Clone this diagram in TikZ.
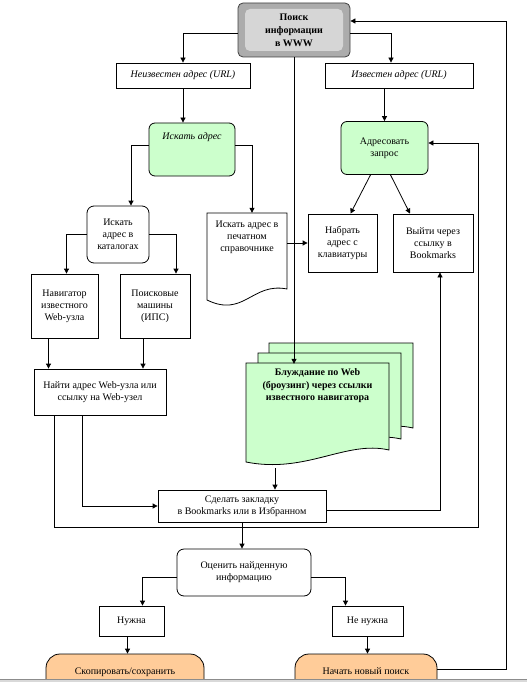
\documentclass[tikz,border=0pt]{standalone}
\usepackage{fontspec}
\setmainfont{Liberation Serif}
\usetikzlibrary{arrows.meta}

\definecolor{boxgreen}{RGB}{204,255,204}
\definecolor{boxorange}{RGB}{255,204,153}
\definecolor{rootgray}{RGB}{172,172,172}
\definecolor{rootlight}{RGB}{214,214,214}

\tikzset{
    every node/.style={font=\fontsize{10}{12}\selectfont, align=center, inner sep=2pt},
    plainbox/.style={draw, line width=0.8pt, fill=white},
    greenbox/.style={plainbox, fill=boxgreen, rounded corners=6pt},
    roundbox/.style={plainbox, rounded corners=7pt},
    endbox/.style={plainbox, fill=boxorange, rounded corners=14pt},
    rootbox/.style={draw=black!75, line width=0.8pt, fill=rootgray, rounded corners=5pt,
        font=\fontsize{10}{13}\selectfont\bfseries,
        path picture={\fill[rootlight] ([shift={(7pt,-6pt)}]path picture bounding box.north west)
            rectangle ([shift={(-7pt,6pt)}]path picture bounding box.south east);}},
    slanted/.style={font=\fontsize{10}{12}\selectfont\itshape},
    heavy/.style={font=\fontsize{10}{12.5}\selectfont\bfseries},
    flow/.style={line width=0.8pt, -{Triangle[length=5pt,width=5pt]}},
}

\begin{document}
\begin{tikzpicture}[x=1pt, y=-1pt]
    \useasboundingbox (0,0) rectangle (527,682);
    \clip (0,0) rectangle (527,682);

    % document shapes
    \draw[line width=0.8pt, fill=white] (207,213) -- (287,213) -- (287,289)
        .. controls (252,282) and (244,318) .. (207,300) -- cycle;
    \draw[line width=0.8pt, fill=boxgreen] (269,343) -- (413,343) -- (413,428)
        .. controls (370,418) and (330,452) .. (269,440) -- cycle;
    \draw[line width=0.8pt, fill=boxgreen] (258,353) -- (401,353) -- (401,439)
        .. controls (358,429) and (318,463) .. (258,451) -- cycle;
    \draw[line width=0.8pt, fill=boxgreen] (246,363) -- (389,363) -- (389,450)
        .. controls (346,440) and (306,474) .. (246,462) -- cycle;
    \coordinate (browbot) at (275,468);

    % nodes
    \node[rootbox, minimum width=112pt, minimum height=54pt] (search) at (294,30) {Поиск\\информации\\в WWW};
    \node[plainbox, slanted, minimum width=134pt, minimum height=25pt] (unk) at (183,75.5) {Неизвестен адрес (URL)};
    \node[plainbox, slanted, minimum width=148pt, minimum height=25pt] (kn) at (399,75.5) {Известен адрес (URL)};
    \node[greenbox, slanted, minimum width=86pt, minimum height=53pt, text height=12pt, text depth=32pt] (findg) at (192,149.5) {Искать адрес};
    \node[greenbox, minimum width=87pt, minimum height=53pt] (addr) at (384.5,148) {Адресовать\\запрос};
    \node[roundbox, minimum width=62pt, minimum height=57pt] (catal) at (118,234.5) {Искать\\адрес в\\каталогах};
    \node[minimum width=80pt, minimum height=48pt] (sprav) at (247,237) {Искать адрес в\\печатном\\справочнике};
    \node[plainbox, minimum width=69pt, minimum height=58pt] (typein) at (342.5,243) {Набрать\\адрес с\\клавиатуры};
    \node[plainbox, minimum width=80pt, minimum height=58pt] (bmk) at (433,243) {Выйти через\\ссылку в\\Bookmarks};
    \node[plainbox, minimum width=67pt, minimum height=64pt] (navig) at (64.5,306) {Навигатор\\известного\\Web-узла};
    \node[plainbox, minimum width=70pt, minimum height=64pt] (engines) at (155,306) {Поисковые\\машины\\(ИПС)};
    \node[plainbox, minimum width=132pt, minimum height=46pt] (findurl) at (100,392) {Найти адрес Web-узла или\\ссылку на Web-узел};
    \node[heavy, minimum width=143pt, minimum height=44pt] (brow) at (317.5,386) {Блуждание по Web\\(броузинг) через ссылки\\известного навигатора};
    \node[plainbox, minimum width=168pt, minimum height=32pt] (bookm) at (242,506) {Сделать закладку\\в Bookmarks или в Избранном};
    \node[roundbox, minimum width=134pt, minimum height=47pt] (eval) at (244,572.5) {Оценить найденную\\информацию};
    \node[plainbox, minimum width=65pt, minimum height=30pt] (need) at (131.5,621) {Нужна};
    \node[plainbox, minimum width=71pt, minimum height=30pt] (noneed) at (367.5,621) {Не нужна};
    \node[endbox, minimum width=158pt, minimum height=50pt, text height=17pt, text depth=27pt] (save) at (125,679) {Скопировать/сохранить};
    \node[endbox, minimum width=142pt, minimum height=50pt, text height=17pt, text depth=27pt] (restart) at (366,679) {Начать новый поиск};

    \coordinate (loopR) at (478,527);
    \coordinate (loopT) at (506,21);

    % connectors
    \draw[flow] ([yshift=-3pt]search.west) -| (unk.north);
    \draw[flow] ([yshift=-3pt]search.east) -| ([xshift=-8pt]kn.north);
    \draw[flow] (search.south) -- (search.south |- brow.north);
    \draw[flow] (unk.south) -- (unk.south |- findg.north);
    \draw[flow] (addr.north |- kn.south) -- (addr.north);
    \draw[flow] ([yshift=4pt]findg.west) -| ([xshift=13pt]catal.north);
    \draw[flow] ([yshift=4pt]findg.east) -| ([xshift=5pt]sprav.north);
    \draw[flow] (sprav.east |- typein.west) -- (typein.west);
    \draw[flow] ([xshift=-14pt]addr.south) -- ([xshift=8pt]typein.north);
    \draw[flow] ([xshift=6pt]addr.south) -- ([xshift=-23pt]bmk.north);
    \draw[flow] (catal.west) -| ([xshift=2pt]navig.north);
    \draw[flow] (catal.east) -| ([xshift=21pt]engines.north);
    \draw[flow] ([xshift=-16pt]navig.south) -- ([xshift=-16pt]navig.south |- findurl.north);
    \draw[flow] ([xshift=-12pt]engines.south) -- ([xshift=-12pt]engines.south |- findurl.north);
    \draw[flow] ([xshift=-18pt]findurl.south) |- (bookm.west);
    \draw[flow] ([xshift=-46pt]findurl.south) |- (loopR) |- ([yshift=5pt]addr.east);
    \draw[flow] (browbot) -- (browbot |- bookm.north);
    \draw[flow] ([yshift=-4pt]bookm.east) -| ([xshift=7pt]bmk.south);
    \draw[flow] (bookm.south) -- (bookm.south |- eval.north);
    \draw[flow] ([yshift=-5pt]eval.west) -| ([xshift=11pt]need.north);
    \draw[flow] ([yshift=-5pt]eval.east) -| ([xshift=-22pt]noneed.north);
    \draw[flow] ([xshift=-4pt]need.south) -- ([xshift=-4pt]need.south |- save.north);
    \draw[flow] (noneed.south) -- (noneed.south |- restart.north);
    \draw[flow] ([yshift=10pt]restart.east) -| (loopT) -- (loopT -| search.east);

    % window edge
    \fill[black!15] (0,679) rectangle (527,682);
    \draw[black!45] (0,679) -- (527,679);
\end{tikzpicture}
\end{document}
